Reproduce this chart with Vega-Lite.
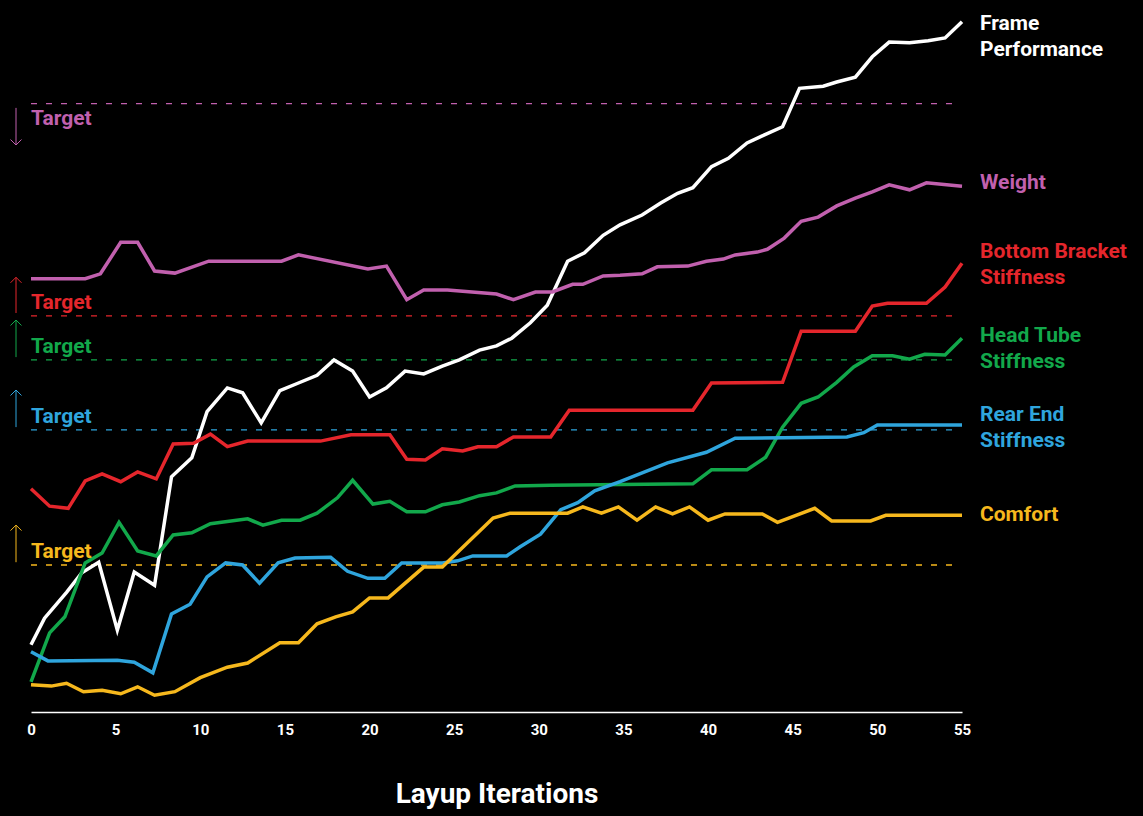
{
  "$schema": "https://vega.github.io/schema/vega-lite/v6.json",
  "width": 931,
  "height": 700,
  "autosize": {"type": "none"},
  "padding": {"left": 31, "top": 12, "right": 181, "bottom": 104},
  "background": "#000000",
  "config": {
    "view": {"stroke": null},
    "font": "Roboto",
    "axisX": {
      "grid": false, "ticks": false,
      "domainColor": "#ffffff", "domainWidth": 1.5,
      "labelColor": "#ffffff", "labelFont": "Roboto", "labelFontWeight": "bold", "labelFontSize": 15,
      "labelPadding": 10, "labelFlush": false,
      "titleColor": "#ffffff", "titleFont": "Roboto", "titleFontWeight": "bold", "titleFontSize": 28,
      "titleBaseline": "alphabetic", "titleY": 90
    }
  },
  "datasets": {
    "series": [
      {"s":"FP","x":0,"y":9.6},{"s":"FP","x":0.8,"y":13.4},{"s":"FP","x":2.1,"y":17.1},{"s":"FP","x":3,"y":19.9},{"s":"FP","x":4,"y":21.4},{"s":"FP","x":5.1,"y":11.7},{"s":"FP","x":6.1,"y":20.0},{"s":"FP","x":7.3,"y":18.1},{"s":"FP","x":8.3,"y":33.6},{"s":"FP","x":9.5,"y":36.3},{"s":"FP","x":10.4,"y":42.9},{"s":"FP","x":11.6,"y":46.3},{"s":"FP","x":12.5,"y":45.6},{"s":"FP","x":13.6,"y":41.3},{"s":"FP","x":14.7,"y":45.9},{"s":"FP","x":15.8,"y":47.0},{"s":"FP","x":16.9,"y":48.1},{"s":"FP","x":17.9,"y":50.3},{"s":"FP","x":19,"y":48.7},{"s":"FP","x":20,"y":45.0},{"s":"FP","x":21,"y":46.3},{"s":"FP","x":22.1,"y":48.7},{"s":"FP","x":23.2,"y":48.3},{"s":"FP","x":24.3,"y":49.4},{"s":"FP","x":25.3,"y":50.3},{"s":"FP","x":26.5,"y":51.7},{"s":"FP","x":27.5,"y":52.3},{"s":"FP","x":28.4,"y":53.4},{"s":"FP","x":29.5,"y":55.6},{"s":"FP","x":30.5,"y":58.1},{"s":"FP","x":31.7,"y":64.4},{"s":"FP","x":32.7,"y":65.6},{"s":"FP","x":33.8,"y":68.1},{"s":"FP","x":34.8,"y":69.6},{"s":"FP","x":36.1,"y":71.0},{"s":"FP","x":37.2,"y":72.7},{"s":"FP","x":38.2,"y":74.1},{"s":"FP","x":39.1,"y":74.9},{"s":"FP","x":40.2,"y":77.9},{"s":"FP","x":41.2,"y":79.1},{"s":"FP","x":42.3,"y":81.3},{"s":"FP","x":43.2,"y":82.3},{"s":"FP","x":44.4,"y":83.6},{"s":"FP","x":45.4,"y":89.1},{"s":"FP","x":46.8,"y":89.4},{"s":"FP","x":47.6,"y":90.0},{"s":"FP","x":48.7,"y":90.7},{"s":"FP","x":49.7,"y":93.6},{"s":"FP","x":50.7,"y":95.7},{"s":"FP","x":51.9,"y":95.6},{"s":"FP","x":53,"y":95.9},{"s":"FP","x":54,"y":96.3},{"s":"FP","x":55,"y":98.6},
      {"s":"W","x":0,"y":61.9},{"s":"W","x":3.2,"y":61.9},{"s":"W","x":4.1,"y":62.6},{"s":"W","x":5.3,"y":67.1},{"s":"W","x":6.3,"y":67.1},{"s":"W","x":7.3,"y":63.0},{"s":"W","x":8.5,"y":62.7},{"s":"W","x":10.5,"y":64.4},{"s":"W","x":14.8,"y":64.4},{"s":"W","x":15.8,"y":65.3},{"s":"W","x":19.9,"y":63.3},{"s":"W","x":21,"y":63.7},{"s":"W","x":22.2,"y":58.9},{"s":"W","x":23.2,"y":60.3},{"s":"W","x":24.6,"y":60.3},{"s":"W","x":27.5,"y":59.7},{"s":"W","x":28.5,"y":58.9},{"s":"W","x":29.8,"y":60.0},{"s":"W","x":30.8,"y":60.0},{"s":"W","x":32,"y":61.1},{"s":"W","x":32.6,"y":61.1},{"s":"W","x":33.8,"y":62.3},{"s":"W","x":34.8,"y":62.4},{"s":"W","x":36.1,"y":62.6},{"s":"W","x":37,"y":63.6},{"s":"W","x":38.8,"y":63.7},{"s":"W","x":39.9,"y":64.4},{"s":"W","x":40.9,"y":64.7},{"s":"W","x":41.6,"y":65.3},{"s":"W","x":42.9,"y":65.7},{"s":"W","x":43.5,"y":66.1},{"s":"W","x":44.5,"y":67.7},{"s":"W","x":45.5,"y":70.1},{"s":"W","x":46.5,"y":70.7},{"s":"W","x":47.6,"y":72.3},{"s":"W","x":48.7,"y":73.4},{"s":"W","x":49.7,"y":74.3},{"s":"W","x":50.7,"y":75.3},{"s":"W","x":51.9,"y":74.6},{"s":"W","x":52.9,"y":75.6},{"s":"W","x":55,"y":75.1},
      {"s":"BB","x":0,"y":31.9},{"s":"BB","x":1.1,"y":29.4},{"s":"BB","x":2.2,"y":29.1},{"s":"BB","x":3.2,"y":33.0},{"s":"BB","x":4.2,"y":34.0},{"s":"BB","x":5.3,"y":32.9},{"s":"BB","x":6.3,"y":34.3},{"s":"BB","x":7.4,"y":33.3},{"s":"BB","x":8.4,"y":38.3},{"s":"BB","x":9.6,"y":38.4},{"s":"BB","x":10.6,"y":39.7},{"s":"BB","x":11.6,"y":37.9},{"s":"BB","x":12.8,"y":38.7},{"s":"BB","x":17.1,"y":38.7},{"s":"BB","x":18.9,"y":39.6},{"s":"BB","x":21.2,"y":39.6},{"s":"BB","x":22.2,"y":36.1},{"s":"BB","x":23.3,"y":36.0},{"s":"BB","x":24.3,"y":37.6},{"s":"BB","x":25.5,"y":37.3},{"s":"BB","x":26.4,"y":37.9},{"s":"BB","x":27.5,"y":37.9},{"s":"BB","x":28.5,"y":39.3},{"s":"BB","x":30.7,"y":39.3},{"s":"BB","x":31.8,"y":43.1},{"s":"BB","x":39.1,"y":43.1},{"s":"BB","x":40.2,"y":47.0},{"s":"BB","x":44.4,"y":47.1},{"s":"BB","x":45.5,"y":54.4},{"s":"BB","x":48.7,"y":54.4},{"s":"BB","x":49.7,"y":58.0},{"s":"BB","x":50.6,"y":58.4},{"s":"BB","x":52.9,"y":58.4},{"s":"BB","x":54,"y":60.7},{"s":"BB","x":55,"y":64.1},
      {"s":"HT","x":0,"y":4.3},{"s":"HT","x":1.1,"y":11.3},{"s":"HT","x":2,"y":13.6},{"s":"HT","x":3.2,"y":21.3},{"s":"HT","x":4.2,"y":22.7},{"s":"HT","x":5.2,"y":27.1},{"s":"HT","x":6.3,"y":23.0},{"s":"HT","x":7.4,"y":22.3},{"s":"HT","x":8.4,"y":25.3},{"s":"HT","x":9.5,"y":25.6},{"s":"HT","x":10.6,"y":26.9},{"s":"HT","x":12.8,"y":27.6},{"s":"HT","x":13.7,"y":26.7},{"s":"HT","x":14.8,"y":27.4},{"s":"HT","x":15.9,"y":27.4},{"s":"HT","x":16.9,"y":28.4},{"s":"HT","x":18.1,"y":30.6},{"s":"HT","x":19,"y":33.1},{"s":"HT","x":20.2,"y":29.7},{"s":"HT","x":21.2,"y":30.1},{"s":"HT","x":22.2,"y":28.6},{"s":"HT","x":23.3,"y":28.6},{"s":"HT","x":24.3,"y":29.6},{"s":"HT","x":25.3,"y":30.0},{"s":"HT","x":26.5,"y":30.9},{"s":"HT","x":27.5,"y":31.3},{"s":"HT","x":28.6,"y":32.3},{"s":"HT","x":30.7,"y":32.4},{"s":"HT","x":39.1,"y":32.6},{"s":"HT","x":40.2,"y":34.6},{"s":"HT","x":42.3,"y":34.6},{"s":"HT","x":43.4,"y":36.4},{"s":"HT","x":44.4,"y":40.7},{"s":"HT","x":45.5,"y":44.1},{"s":"HT","x":46.5,"y":45.0},{"s":"HT","x":47.6,"y":47.1},{"s":"HT","x":48.6,"y":49.3},{"s":"HT","x":49.7,"y":50.9},{"s":"HT","x":50.9,"y":50.9},{"s":"HT","x":51.9,"y":50.4},{"s":"HT","x":52.8,"y":51.1},{"s":"HT","x":54,"y":51.0},{"s":"HT","x":55,"y":53.4},
      {"s":"RE","x":0,"y":8.6},{"s":"RE","x":1,"y":7.3},{"s":"RE","x":5.1,"y":7.4},{"s":"RE","x":6.1,"y":7.1},{"s":"RE","x":7.2,"y":5.6},{"s":"RE","x":8.3,"y":14.0},{"s":"RE","x":9.4,"y":15.4},{"s":"RE","x":10.4,"y":19.3},{"s":"RE","x":11.5,"y":21.3},{"s":"RE","x":12.5,"y":21.0},{"s":"RE","x":13.5,"y":18.4},{"s":"RE","x":14.6,"y":21.3},{"s":"RE","x":15.6,"y":22.0},{"s":"RE","x":17.7,"y":22.1},{"s":"RE","x":18.7,"y":20.1},{"s":"RE","x":19.9,"y":19.1},{"s":"RE","x":20.9,"y":19.1},{"s":"RE","x":21.9,"y":21.3},{"s":"RE","x":24.3,"y":21.3},{"s":"RE","x":25.2,"y":21.6},{"s":"RE","x":26.1,"y":22.3},{"s":"RE","x":28.1,"y":22.3},{"s":"RE","x":28.9,"y":23.6},{"s":"RE","x":30.1,"y":25.4},{"s":"RE","x":31.3,"y":28.9},{"s":"RE","x":32.3,"y":29.9},{"s":"RE","x":33.3,"y":31.6},{"s":"RE","x":34.8,"y":32.9},{"s":"RE","x":37.6,"y":35.6},{"s":"RE","x":39.9,"y":37.1},{"s":"RE","x":41.6,"y":39.1},{"s":"RE","x":48.2,"y":39.3},{"s":"RE","x":49.2,"y":39.9},{"s":"RE","x":50,"y":41.0},{"s":"RE","x":55,"y":41.0},
      {"s":"C","x":0,"y":3.9},{"s":"C","x":1.2,"y":3.7},{"s":"C","x":2.1,"y":4.1},{"s":"C","x":3.1,"y":2.9},{"s":"C","x":4.2,"y":3.1},{"s":"C","x":5.3,"y":2.6},{"s":"C","x":6.3,"y":3.6},{"s":"C","x":7.3,"y":2.4},{"s":"C","x":8.5,"y":2.9},{"s":"C","x":10,"y":4.9},{"s":"C","x":11.6,"y":6.4},{"s":"C","x":12.8,"y":7.0},{"s":"C","x":14.7,"y":9.9},{"s":"C","x":15.8,"y":9.9},{"s":"C","x":16.9,"y":12.6},{"s":"C","x":18,"y":13.6},{"s":"C","x":19,"y":14.3},{"s":"C","x":20,"y":16.3},{"s":"C","x":21.1,"y":16.3},{"s":"C","x":23.2,"y":20.7},{"s":"C","x":24.3,"y":20.7},{"s":"C","x":27.3,"y":27.7},{"s":"C","x":28.3,"y":28.4},{"s":"C","x":31.7,"y":28.4},{"s":"C","x":32.6,"y":29.3},{"s":"C","x":33.7,"y":28.4},{"s":"C","x":34.7,"y":29.3},{"s":"C","x":35.8,"y":27.4},{"s":"C","x":36.9,"y":29.3},{"s":"C","x":37.9,"y":28.3},{"s":"C","x":38.9,"y":29.3},{"s":"C","x":40,"y":27.4},{"s":"C","x":41,"y":28.3},{"s":"C","x":43.2,"y":28.3},{"s":"C","x":44.1,"y":27.1},{"s":"C","x":46.3,"y":29.1},{"s":"C","x":47.3,"y":27.3},{"s":"C","x":49.6,"y":27.3},{"s":"C","x":50.5,"y":28.1},{"s":"C","x":55,"y":28.1}
    ],
    "targets": [
      {"s":"W","target":86.9,"textY":84.7,"arrowFrom":86.3,"arrowTo":81.0,"dir":"down"},
      {"s":"BB","target":56.6,"textY":58.4,"arrowFrom":57.0,"arrowTo":62.1,"dir":"up"},
      {"s":"HT","target":50.3,"textY":52.1,"arrowFrom":50.7,"arrowTo":56.0,"dir":"up"},
      {"s":"RE","target":40.3,"textY":42.1,"arrowFrom":40.7,"arrowTo":46.0,"dir":"up"},
      {"s":"C","target":21.0,"textY":22.9,"arrowFrom":21.4,"arrowTo":26.7,"dir":"up"}
    ],
    "labels": [
      {"s":"FP","x":55,"y":98.3,"label":"Frame\nPerformance"},
      {"s":"W","x":55,"y":75.6,"label":"Weight"},
      {"s":"BB","x":55,"y":65.7,"label":"Bottom Bracket\nStiffness"},
      {"s":"HT","x":55,"y":53.7,"label":"Head Tube\nStiffness"},
      {"s":"RE","x":55,"y":42.4,"label":"Rear End\nStiffness"},
      {"s":"C","x":55,"y":28.1,"label":"Comfort"}
    ]
  },
  "layer": [
    {
      "data": {"name": "targets"},
      "mark": {"type": "rule", "strokeWidth": 1.3, "strokeDash": [6, 9]},
      "encoding": {
        "x": {"datum": 0, "type": "quantitative"},
        "x2": {"datum": 54.8},
        "y": {"field": "target", "type": "quantitative", "axis": null},
        "color": {"field": "s", "type": "nominal", "legend": null}
      }
    },
    {
      "data": {"name": "series"},
      "mark": {"type": "line", "strokeWidth": 3.5},
      "encoding": {
        "x": {
          "field": "x", "type": "quantitative",
          "scale": {"domain": [0, 55], "nice": false, "zero": false},
          "axis": {
            "values": [0, 5, 10, 15, 20, 25, 30, 35, 40, 45, 50, 55],
            "title": "Layup Iterations"
          }
        },
        "y": {"field": "y", "type": "quantitative", "scale": {"domain": [0, 100], "nice": false, "zero": false}, "axis": null},
        "color": {
          "field": "s", "type": "nominal", "legend": null,
          "scale": {
            "domain": ["FP", "W", "BB", "HT", "RE", "C"],
            "range": ["#ffffff", "#c160ae", "#e5262c", "#12a84b", "#2fa5dd", "#f6b81d"]
          }
        }
      }
    },
    {
      "data": {"name": "targets"},
      "mark": {"type": "text", "align": "left", "baseline": "middle", "fontSize": 21, "fontWeight": "bold", "font": "Roboto"},
      "encoding": {
        "x": {"datum": 0, "type": "quantitative"},
        "y": {"field": "textY", "type": "quantitative", "axis": null},
        "text": {"value": "Target"},
        "color": {"field": "s", "type": "nominal", "legend": null}
      }
    },
    {
      "data": {"name": "targets"},
      "mark": {"type": "rule", "strokeWidth": 1},
      "encoding": {
        "x": {"datum": -0.886, "type": "quantitative"},
        "y": {"field": "arrowFrom", "type": "quantitative", "axis": null},
        "y2": {"field": "arrowTo"},
        "color": {"field": "s", "type": "nominal", "legend": null}
      }
    },
    {
      "data": {"name": "targets"},
      "mark": {"type": "point", "filled": false, "strokeWidth": 1, "size": 121, "opacity": 1},
      "encoding": {
        "x": {"datum": -0.886, "type": "quantitative"},
        "y": {"field": "arrowTo", "type": "quantitative", "axis": null},
        "shape": {
          "field": "dir", "type": "nominal", "legend": null,
          "scale": {"domain": ["up", "down"], "range": ["M-1,1L0,0L1,1", "M-1,-1L0,0L1,-1"]}
        },
        "color": {"field": "s", "type": "nominal", "legend": null}
      }
    },
    {
      "data": {"name": "labels"},
      "mark": {"type": "text", "align": "left", "baseline": "middle", "dx": 18, "fontSize": 21, "fontWeight": "bold", "font": "Roboto", "lineBreak": "\n", "lineHeight": 26},
      "encoding": {
        "x": {"field": "x", "type": "quantitative"},
        "y": {"field": "y", "type": "quantitative", "axis": null},
        "text": {"field": "label"},
        "color": {"field": "s", "type": "nominal", "legend": null}
      }
    }
  ]
}
